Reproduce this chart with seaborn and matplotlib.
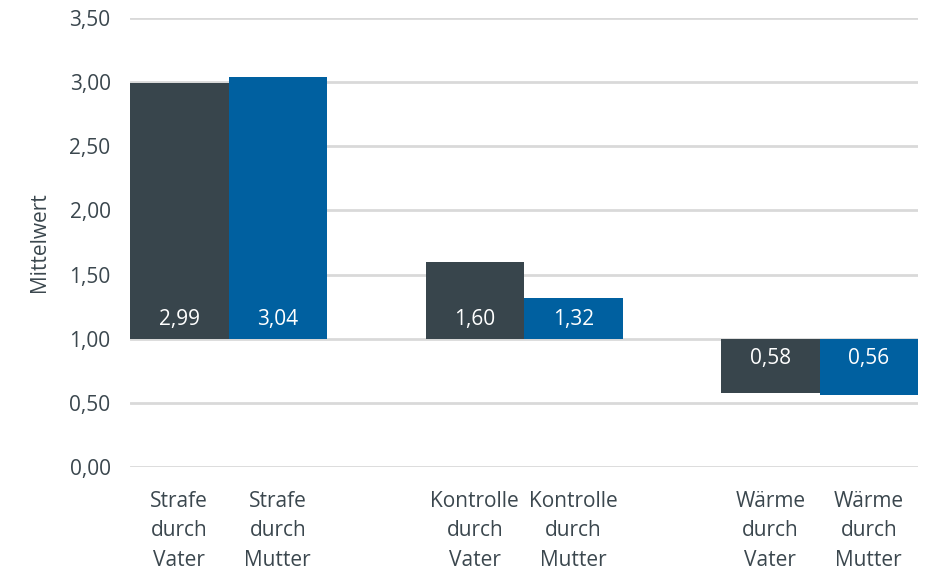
import matplotlib
matplotlib.use("Agg")
import matplotlib.pyplot as plt
import seaborn as sns
import pandas as pd

# data (bars hang from the 1,00 baseline)
categories = ["Strafe\ndurch\nVater", "Strafe\ndurch\nMutter", " ",
              "Kontrolle\ndurch\nVater", "Kontrolle\ndurch\nMutter", "  ",
              "Wärme\ndurch\nVater", "Wärme\ndurch\nMutter"]
parent = ["Vater", "Mutter", None, "Vater", "Mutter", None, "Vater", "Mutter"]
values = [2.99, 3.04, None, 1.60, 1.32, None, 0.58, 0.56]
baseline = 1.0

sns.set_theme(style="white")
plt.rcParams["font.family"] = ["Open Sans", "DejaVu Sans"]

text_col = "#3b474e"
colors = {"Vater": "#38454c", "Mutter": "#0060a0"}

df = pd.DataFrame({"Kategorie": categories, "Elternteil": parent, "Wert": values})
df = df.dropna()
df["Delta"] = df["Wert"] - baseline

fig, ax = plt.subplots(figsize=(9.32, 5.71), dpi=100)
fig.subplots_adjust(left=0.1395, right=0.985, top=0.9685, bottom=0.182)

ax.yaxis.grid(True, color="#d9d9d9", linewidth=2)
ax.set_axisbelow(True)

sns.barplot(data=df, x="Kategorie", y="Delta", hue="Elternteil", order=categories,
            palette=colors, saturation=1, dodge=False, width=1.0, bottom=baseline,
            legend=False, ax=ax, errorbar=None, linewidth=0)

pos = {c: i for i, c in enumerate(categories)}
for _, r in df.iterrows():
    off = 14 if r["Wert"] >= baseline else -14
    ax.annotate(f"{r['Wert']:.2f}".replace(".", ","), xy=(pos[r["Kategorie"]], baseline),
                xytext=(0, off), textcoords="offset points", ha="center", va="center",
                color="white", fontsize=15)

ax.set_ylim(0, 3.5)
ax.set_xlim(-0.5, len(categories) - 0.5)
ax.set_yticks([0, 0.5, 1, 1.5, 2, 2.5, 3, 3.5])
ax.set_yticklabels([f"{v:.2f}".replace(".", ",") for v in ax.get_yticks()])
ax.tick_params(axis="both", length=0, labelsize=15, colors=text_col)
ax.tick_params(axis="y", pad=14)
ax.tick_params(axis="x", pad=17)
for lbl in ax.get_xticklabels():
    lbl.set_linespacing(1.55)
ax.set_xlabel("")
ax.set_ylabel("Mittelwert", fontsize=15, color=text_col, labelpad=14)
for s in ax.spines.values():
    s.set_visible(False)

plt.savefig("out.png", dpi=100)
